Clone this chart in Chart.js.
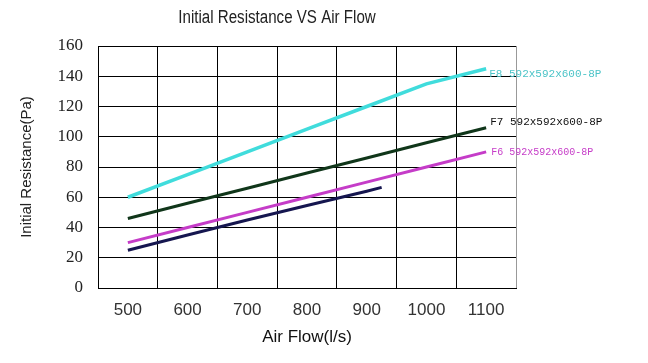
<!DOCTYPE html>
<html><head><meta charset="utf-8">
<script src="https://cdn.jsdelivr.net/npm/chart.js@4/dist/chart.umd.min.js"></script>
<style>html,body{margin:0;padding:0;background:#fff}#wrap{width:648px;height:363px}</style>
</head><body><div id="wrap"><canvas id="c" width="648" height="363"></canvas></div>
<script>
const airFlow = [500, 600, 700, 800, 900, 1000, 1100];
const f8Values = [60, 75, 90, 105, 120, 135, 145];
const f7Values = [46, 56, 66, 76, 86, 96, 106];
const f6Values = [30, 40, 50, 60, 70, 80, 90];
const navyFlow = [500, 600, 700, 800, 900, 925];
const navyValues = [25, 35, 45, 54.5, 64, 66.5];
const xTickLabels = [500, 600, 700, 800, 900, 1000, 1100];
const yTickLabels = [0, 20, 40, 60, 80, 100, 120, 140, 160];
const seriesNames = ['F8 592x592x600-8P', 'F7 592x592x600-8P', 'F6 592x592x600-8P', ''];
const chartTitle = 'Initial Resistance VS Air Flow';

const pts = (xs, ys) => xs.map((x, i) => ({x: x, y: ys[i]}));

const endLabels = {
  id: 'endLabels',
  afterDatasetsDraw(chart) {
    const ctx = chart.ctx;
    chart.data.datasets.forEach((ds, i) => {
      if (!ds.endLabel) return;
      const meta = chart.getDatasetMeta(i);
      const last = meta.data[meta.data.length - 1];
      ctx.save();
      ctx.font = ds.endLabelFont;
      ctx.fillStyle = ds.endLabelColor;
      ctx.textBaseline = 'middle';
      ctx.textAlign = 'left';
      ctx.fillText(ds.endLabel, last.x + ds.endLabelDx, last.y + ds.endLabelDy);
      ctx.restore();
    });
  }
};

const topTitle = {
  id: 'topTitle',
  afterDraw(chart) {
    const ctx = chart.ctx;
    ctx.save();
    ctx.font = '18px "Liberation Sans"';
    ctx.fillStyle = '#222';
    ctx.textAlign = 'center';
    ctx.textBaseline = 'middle';
    ctx.translate(277, 18);
    ctx.scale(0.84, 1);
    ctx.fillText(chartTitle, 0, 0);
    ctx.restore();
  }
};

new Chart(document.getElementById('c'), {
  type: 'line',
  data: {
    datasets: [
      {data: pts(airFlow, f8Values), borderColor: '#40DCDC', borderWidth: 3.5,
       endLabel: seriesNames[0], endLabelColor: '#4CC4C8', endLabelFont: '11px "Liberation Mono"', endLabelDx: 3, endLabelDy: 5},
      {data: pts(airFlow, f7Values), borderColor: '#10361A', borderWidth: 3,
       endLabel: seriesNames[1], endLabelColor: '#111', endLabelFont: '11px "Liberation Mono"', endLabelDx: 4, endLabelDy: -6},
      {data: pts(airFlow, f6Values), borderColor: '#C53CC8', borderWidth: 3,
       endLabel: seriesNames[2], endLabelColor: '#C63CC8', endLabelFont: '10px "Liberation Mono"', endLabelDx: 5, endLabelDy: 0},
      {data: pts(navyFlow, navyValues), borderColor: '#15164F', borderWidth: 3}
    ]
  },
  options: {
    responsive: false,
    animation: false,
    devicePixelRatio: 1,
    layout: {padding: {left: 10, right: 132, top: 46, bottom: 5}},
    elements: {point: {radius: 0}, line: {tension: 0, borderCapStyle: 'butt'}},
    plugins: {
      legend: {display: false},
      tooltip: {enabled: false},
      title: {display: false}
    },
    scales: {
      x: {
        type: 'linear', min: 450, max: 1150,
        afterBuildTicks: s => { s.ticks = xTickLabels.map(v => ({value: v})); },
        afterFit: s => { s.height = 70; },
        grid: {offset: true, drawTicks: false, lineWidth: 1,
          color: c => c.type === 'tick' ? '#000' : '#999'},
        border: {color: '#000', width: 1},
        ticks: {autoSkip: false, maxRotation: 0, padding: 12, color: '#333',
          callback: v => String(v),
          font: {family: '"Liberation Sans"', size: 17}},
        title: {display: true, text: 'Air Flow(l/s)', color: '#111',
          font: {family: '"Liberation Sans"', size: 17}, padding: {top: 0, bottom: 10}}
      },
      y: {
        min: 0, max: 160,
        afterBuildTicks: s => { s.ticks = yTickLabels.map(v => ({value: v})); },
        afterFit: s => { s.width = 88; },
        grid: {drawTicks: false, color: '#000', lineWidth: 1},
        border: {color: '#000', width: 1},
        ticks: {padding: 15, color: '#222', callback: v => String(v),
          font: {family: '"Liberation Serif"', size: 17}},
        title: {display: true, text: 'Initial Resistance(Pa)', color: '#222',
          font: {family: '"Liberation Sans"', size: 15}, padding: {top: 8, bottom: 0}}
      }
    }
  },
  plugins: [endLabels, topTitle]
});
</script>
</body></html>
